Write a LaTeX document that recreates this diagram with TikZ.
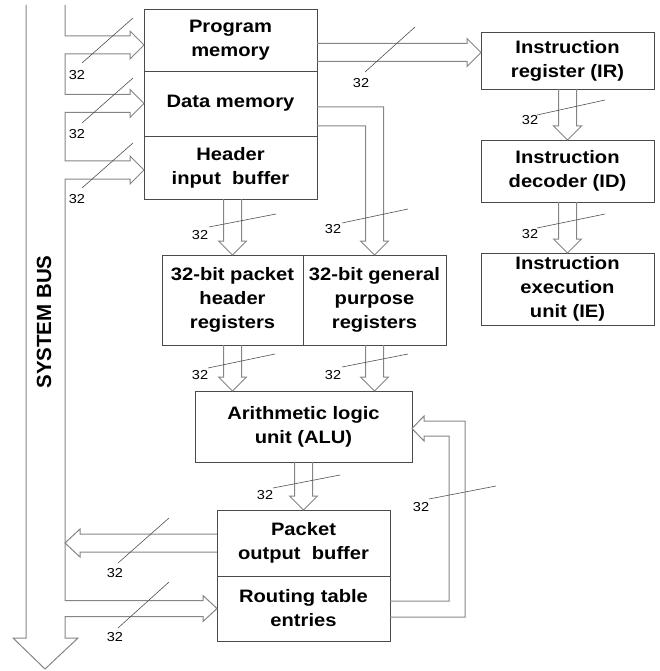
\documentclass[tikz,border=0pt]{standalone}
\usepackage{fontspec}
\setmainfont{Liberation Sans}[FakeStretch=1.12]
\newfontfamily\busfont{Liberation Sans}
\usetikzlibrary{positioning}

\definecolor{boxgray}{HTML}{4A4A4A}
\definecolor{busgray}{HTML}{858585}
\definecolor{tickgray}{HTML}{505050}

\tikzset{
    box/.style={draw=boxgray, line width=0.8pt, inner sep=0pt, outer sep=0pt, align=center,
        font=\fontsize{18}{24}\selectfont\bfseries},
    bus/.style={draw=busgray, line width=1pt, line join=miter},
    tick/.style={draw=tickgray, line width=0.6pt},
    num/.style={inner sep=0pt, font=\fontsize{13}{15}\selectfont},
}

\begin{document}
\begin{tikzpicture}[x=1pt, y=-1pt]
        \useasboundingbox (0,0) rectangle (660,671);

        % memory nodes
        \node[box, minimum width=173pt, minimum height=62pt] (PM) at (230.5,40) {Program\\memory};
        \node[box, minimum width=173pt, minimum height=65pt, below=0pt of PM] (DM) {Data memory};
        \node[box, minimum width=173pt, minimum height=63pt, below=0pt of DM] (HIB) {Header\\input\ \ buffer};

        % register nodes
        \node[box, minimum width=141pt, minimum height=90pt] (PHR) at (232.5,300) {32-bit packet\\header\\registers};
        \node[box, minimum width=143pt, minimum height=90pt, right=0pt of PHR] (GPR) {32-bit general\\purpose\\registers};

        % alu and output nodes
        \node[box, minimum width=217pt, minimum height=71pt] (ALU) at (303.5,426.5) {Arithmetic logic\\unit (ALU)};
        \node[box, minimum width=173pt, minimum height=66pt] (POB) at (303.5,543) {Packet\\output\ \ buffer};
        \node[box, minimum width=173pt, minimum height=65pt, below=0pt of POB] (RTE) {Routing table\\entries};

        % instruction nodes
        \node[box, minimum width=173pt, minimum height=57pt] (IR) at (567.5,60.5) {Instruction\\register (IR)};
        \node[box, minimum width=173pt, minimum height=62pt] (ID) at (567.5,171) {Instruction\\decoder (ID)};
        \node[box, minimum width=173pt, minimum height=72pt] (IE) at (567.5,289) {Instruction\\execution\\unit (IE)};

        % bus label
        \node[rotate=90, font=\busfont\fontsize{20.5}{24}\selectfont\bfseries] (SB) at (44,322) {SYSTEM BUS};

        % arrow tips
        \coordinate (pmin) at ([shift={(0,5)}]PM.west);
        \coordinate (dmin) at (DM.west);
        \coordinate (hibin) at ([shift={(0,2.5)}]HIB.west);
        \coordinate (irin) at ([shift={(0,-8)}]IR.west);
        \coordinate (aluinL) at (PHR.south |- ALU.north);
        \coordinate (aluinR) at (GPR.south |- ALU.north);
        \coordinate (aluin) at ([shift={(0,2)}]ALU.east);

        % system bus
        \draw[bus] (26,5) -- (26,638) -- ++(-13,0) -- ++(32,31) -- ++(33,-31) -- ++(-13,0)
            |- ([shift={(-14,8)}]RTE.west) -- ++(0,5) -- (RTE.west) -- ++(-14,-13) -- ++(0,5)
            -| ([shift={(-79,9)}]hibin) -- ++(65,0) -- ++(0,5) -- (hibin) -- ++(-14,-14) -- ++(0,5)
            -| ([shift={(-79,9)}]dmin) -- ++(65,0) -- ++(0,5) -- (dmin) -- ++(-14,-14) -- ++(0,5)
            -| ([shift={(-79,9)}]pmin) -- ++(65,0) -- ++(0,5) -- (pmin) -- ++(-14,-14) -- ++(0,5)
            -| (65,5);
        \draw[bus] ([shift={(0,-9)}]POB.west) -- ++(-137,0) -- ++(0,-5) -- ++(-15,14) -- ++(15,14) -- ++(0,-5) -- ++(137,0);

        % horizontal arrows
        \draw[bus] (irin) ++(-164,-9) -- ++(150,0) -- ++(0,-5) -- (irin) -- ++(-14,14) -- ++(0,-5) -- ++(-150,0);
        \draw[bus] ([shift={(0,22.5)}]DM.east) -| ([shift={(-9,-14)}]GPR.north) -- ++(-5,0) -- (GPR.north) -- ++(14,-14) -- ++(-5,0) |- ([shift={(0,3.5)}]DM.east);
        \draw[bus] ([shift={(0,-7.5)}]RTE.east) -| ([shift={(37,7.5)}]aluin) -- ++(-25,0) -- ++(0,5) -- (aluin) -- ++(12,-12.5) -- ++(0,5) -- ++(41,0) |- ([shift={(0,8.5)}]RTE.east);

        % vertical arrows
        \draw[bus] (ID.north) ++(-9,-51) -- ++(0,37) -- ++(-5,0) -- (ID.north) -- ++(14,-14) -- ++(-5,0) -- ++(0,-37);
        \draw[bus] (IE.north) ++(-9,-51) -- ++(0,37) -- ++(-5,0) -- (IE.north) -- ++(14,-14) -- ++(-5,0) -- ++(0,-37);
        \draw[bus] (PHR.north) ++(-9,-56) -- ++(0,42) -- ++(-5,0) -- (PHR.north) -- ++(14,-14) -- ++(-5,0) -- ++(0,-42);
        \draw[bus] (aluinL) ++(-9,-46) -- ++(0,32) -- ++(-5,0) -- (aluinL) -- ++(14,-14) -- ++(-5,0) -- ++(0,-32);
        \draw[bus] (aluinR) ++(-9,-46) -- ++(0,32) -- ++(-5,0) -- (aluinR) -- ++(14,-14) -- ++(-5,0) -- ++(0,-32);
        \draw[bus] (POB.north) ++(-9,-48) -- ++(0,34) -- ++(-5,0) -- (POB.north) -- ++(14,-14) -- ++(-5,0) -- ++(0,-34);

        % width labels
        \node[num] (w1) at (77,75) {32};
        \node[num] (w2) at (77,134) {32};
        \node[num] (w3) at (77,199) {32};
        \node[num] (w4) at (361,83) {32};
        \node[num] (w5) at (530,120) {32};
        \node[num] (w6) at (530,234) {32};
        \node[num] (w7) at (200,235) {32};
        \node[num] (w8) at (333,229) {32};
        \node[num] (w9) at (200,375) {32};
        \node[num] (w10) at (333,375) {32};
        \node[num] (w11) at (265,495) {32};
        \node[num] (w12) at (115,573) {32};
        \node[num] (w13) at (115,637) {32};
        \node[num] (w14) at (421,507) {32};

        % width ticks
        \draw[tick] (w1.center) ++(5,-12) -- ++(51,-45);
        \draw[tick] (w2.center) ++(5,-11) -- ++(51,-45);
        \draw[tick] (w3.center) ++(5,-11) -- ++(51,-45);
        \draw[tick] (w4.center) ++(4,-11) -- ++(50,-45);
        \draw[tick] (w5.center) ++(7,-5) -- ++(68,-15);
        \draw[tick] (w6.center) ++(7,-6) -- ++(68,-14);
        \draw[tick] (w7.center) ++(9,-8) -- ++(67,-13);
        \draw[tick] (w8.center) ++(9,-6) -- ++(66,-14);
        \draw[tick] (w9.center) ++(8,-7) -- ++(67,-14);
        \draw[tick] (w10.center) ++(9,-8) -- ++(66,-13);
        \draw[tick] (w11.center) ++(8,-7) -- ++(67,-13);
        \draw[tick] (w12.center) ++(3,-10) -- ++(51,-45);
        \draw[tick] (w13.center) ++(3,-9) -- ++(51,-46);
        \draw[tick] (w14.center) ++(8,-8) -- ++(67,-13);
\end{tikzpicture}
\end{document}
